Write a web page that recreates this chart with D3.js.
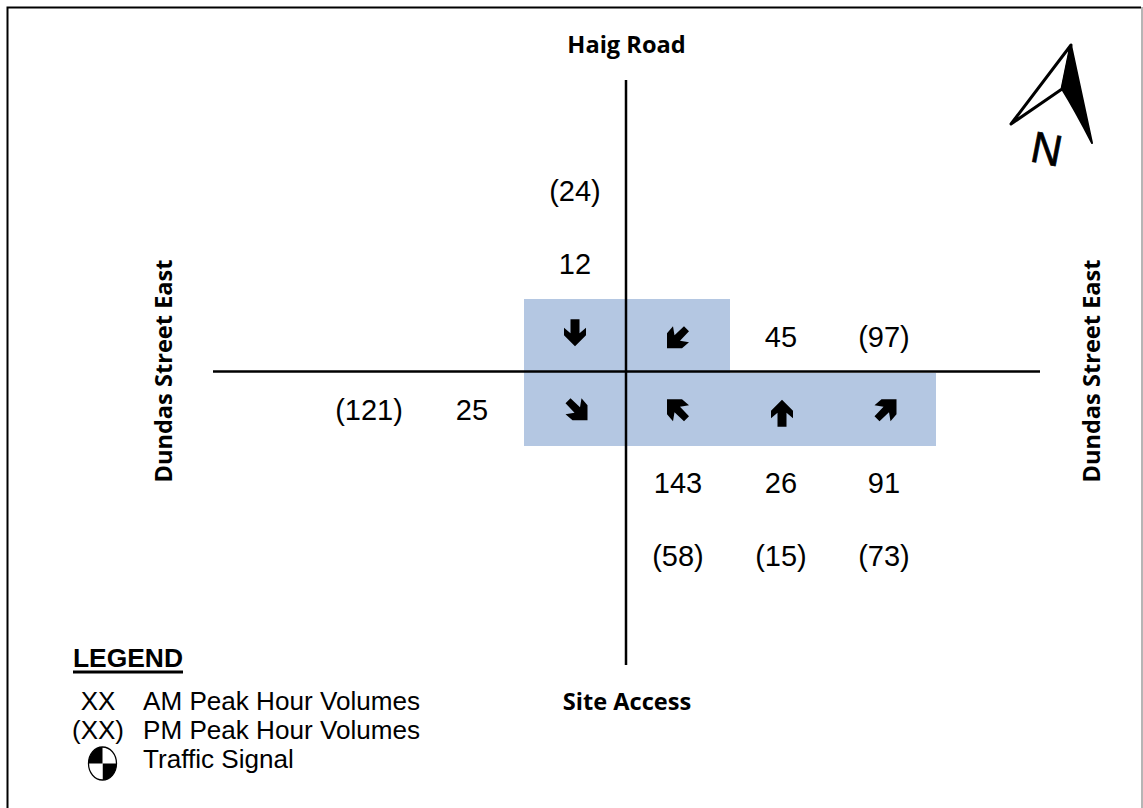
<!DOCTYPE html>
<html>
    <head>
        <meta charset="UTF-8" />
        <title>Haig Road at Dundas Street East</title>
        <script src="https://cdn.jsdelivr.net/npm/d3@7"></script>
        <style>
            html, body { margin: 0; padding: 0; background: #fff; }
            svg { display: block; }
        </style>
    </head>
    <body>
        <svg id="chart"></svg>

        <script>
            // Turning movements, one entry per arrow
            const directions = ["down", "downLeft", "downRight", "upLeft", "up", "upRight"];
            const amVolumes = [12, 45, 25, 143, 26, 91];
            const pmVolumes = [24, 97, 121, 58, 15, 73];

            // Grid slots for each movement
            const columns = ["c1", "c2", "c3", "c4", "c5", "c6"];
            const rows = ["r1", "r2", "r3", "r4", "r5", "r6"];
            const arrowCols = ["c3", "c4", "c3", "c4", "c5", "c6"];
            const arrowRows = ["north", "north", "south", "south", "south", "south"];
            const amCols = ["c3", "c5", "c2", "c4", "c5", "c6"];
            const amRows = ["r2", "r3", "r4", "r5", "r5", "r5"];
            const pmCols = ["c3", "c6", "c1", "c4", "c5", "c6"];
            const pmRows = ["r1", "r3", "r4", "r6", "r6", "r6"];

            // Legend
            const legendKeys = ["XX", "(XX)", ""];
            const legendLabels = ["AM Peak Hour Volumes", "PM Peak Hour Volumes", "Traffic Signal"];

            const width = 1143;
            const height = 808;
            const numFont = "'Liberation Sans', Arial, sans-serif";
            const labelFont = "'Open Sans', 'Noto Sans', sans-serif";

            const svg = d3.select("#chart")
                        .attr("width", width)
                        .attr("height", height);

            const x = d3.scalePoint().domain(columns).range([369, 884]);
            const y = d3.scalePoint().domain(rows).range([191, 555.5]);
            const bandY = d3.scaleBand().domain(["north", "south"]).range([299, 446]);
            const halfStep = x.step() / 2;

            // Page frame, the right edge is a light grey
            svg.append("path")
                .attr("d", "M7.5,808V7.5H1141")
                .attr("fill", "none")
                .attr("stroke", "#000")
                .attr("stroke-width", 2);
            svg.append("line")
                .attr("x1", 1142).attr("x2", 1142)
                .attr("y1", 7).attr("y2", 808)
                .attr("stroke", "#b5b5b5")
                .attr("stroke-width", 2);

            // Shaded cells
            svg.selectAll("rect.cell")
                .data(directions)
                .enter()
                .append("rect")
                .attr("class", "cell")
                .attr("x", (d, i) => x(arrowCols[i]) - halfStep)
                .attr("y", (d, i) => bandY(arrowRows[i]))
                .attr("width", x.step())
                .attr("height", bandY.bandwidth())
                .attr("fill", "#b4c7e2")
                .attr("shape-rendering", "crispEdges");

            // Roads
            svg.append("line")
                .attr("x1", 213).attr("x2", 1040)
                .attr("y1", 371.5).attr("y2", 371.5)
                .attr("stroke", "#000").attr("stroke-width", 2.5);
            svg.append("line")
                .attr("x1", 626).attr("x2", 626)
                .attr("y1", 80).attr("y2", 665)
                .attr("stroke", "#000").attr("stroke-width", 2.5);

            // Arrow glyphs, drawn pointing up and turned to suit
            const straightArrow = "M0,-13.5L11,-2.5V5L4.5,-0.5V13.5H-4.5V-0.5L-11,5V-2.5Z";
            const cornerArrow = "M11,-11V4L5,11L3.5,2L-6,11L-11,6L-2,-3.5L-11,-5L-4,-11Z";
            const glyphs = {
                down: { path: straightArrow, angle: 180, dx: 0, dy: -3 },
                up: { path: straightArrow, angle: 0, dx: 1, dy: 4 },
                upRight: { path: cornerArrow, angle: 0, dx: 1.5, dy: 1 },
                downRight: { path: cornerArrow, angle: 90, dx: 1.5, dy: 0 },
                downLeft: { path: cornerArrow, angle: 180, dx: 0, dy: 1.5 },
                upLeft: { path: cornerArrow, angle: 270, dx: 0, dy: 1 }
            };

            svg.selectAll("path.arrow")
                .data(directions)
                .enter()
                .append("path")
                .attr("class", "arrow")
                .attr("d", d => glyphs[d].path)
                .attr("transform", (d, i) => {
                    const cx = x(arrowCols[i]) + glyphs[d].dx;
                    const cy = bandY(arrowRows[i]) + bandY.bandwidth() / 2 + glyphs[d].dy;
                    return `translate(${cx},${cy}) rotate(${glyphs[d].angle})`;
                })
                .attr("fill", "#000");

            // Volumes
            svg.selectAll("text.am")
                .data(amVolumes)
                .enter()
                .append("text")
                .attr("class", "am")
                .attr("x", (d, i) => x(amCols[i]))
                .attr("y", (d, i) => y(amRows[i]))
                .attr("dy", "0.36em")
                .attr("text-anchor", "middle")
                .style("font", `29px ${numFont}`)
                .text(d => d);

            svg.selectAll("text.pm")
                .data(pmVolumes)
                .enter()
                .append("text")
                .attr("class", "pm")
                .attr("x", (d, i) => x(pmCols[i]))
                .attr("y", (d, i) => y(pmRows[i]))
                .attr("dy", "0.36em")
                .attr("text-anchor", "middle")
                .style("font", `29px ${numFont}`)
                .text(d => `(${d})`);

            // Road names
            function roadLabel(text, tx, ty, angle) {
                svg.append("text")
                    .attr("transform", `translate(${tx},${ty}) rotate(${angle})`)
                    .attr("text-anchor", "middle")
                    .style("font", `bold 23.6px ${labelFont}`)
                    .text(text);
            }
            roadLabel("Haig Road", 626.5, 53, 0);
            roadLabel("Site Access", 627, 710, 0);
            roadLabel("Dundas Street East", 172, 371, -90);
            roadLabel("Dundas Street East", 1100, 371, -90);

            // North arrow
            svg.append("path")
                .attr("d", "M1071,45L1011,124L1062,89Z")
                .attr("fill", "#fff")
                .attr("stroke", "#000")
                .attr("stroke-width", 3)
                .attr("stroke-linejoin", "round");
            svg.append("path")
                .attr("d", "M1071,45L1062,89Q1075,110 1092,143Z")
                .attr("fill", "#000")
                .attr("stroke", "#000")
                .attr("stroke-width", 2)
                .attr("stroke-linejoin", "round");
            svg.append("text")
                .attr("transform", "translate(1029,161) rotate(11) scale(0.95,1)")
                .attr("stroke", "#000")
                .attr("stroke-width", 0.8)
                .style("font", `44px ${numFont}`)
                .text("N");

            // Legend
            const legendY = d3.scalePoint().domain(legendLabels).range([710, 767.5]);

            svg.append("text")
                .attr("x", 73).attr("y", 667)
                .style("font", `bold 26.4px ${numFont}`)
                .text("LEGEND");
            svg.append("line")
                .attr("x1", 73).attr("x2", 183)
                .attr("y1", 672).attr("y2", 672)
                .attr("stroke", "#000").attr("stroke-width", 3);

            svg.selectAll("text.legendKey")
                .data(legendKeys)
                .enter()
                .append("text")
                .attr("class", "legendKey")
                .attr("x", 98)
                .attr("y", (d, i) => legendY(legendLabels[i]))
                .attr("text-anchor", "middle")
                .style("font", `26px ${numFont}`)
                .text(d => d);

            svg.selectAll("text.legendLabel")
                .data(legendLabels)
                .enter()
                .append("text")
                .attr("class", "legendLabel")
                .attr("x", 143)
                .attr("y", d => legendY(d))
                .style("font", `26.1px ${numFont}`)
                .text(d => d);

            // Traffic signal symbol, black in two opposite quarters
            const signal = svg.append("g")
                .attr("transform", "translate(102.5,763.5) scale(14,16.5)");
            signal.selectAll("path")
                .data(d3.pie().value(1).sort(null)([1, 2, 3, 4]))
                .enter()
                .append("path")
                .attr("d", d3.arc().innerRadius(0).outerRadius(1))
                .attr("fill", (d, i) => i % 2 === 0 ? "#fff" : "#000");
            signal.append("ellipse")
                .attr("rx", 1).attr("ry", 1)
                .attr("fill", "none")
                .attr("stroke", "#000")
                .attr("stroke-width", 0.09);
        </script>
    </body>
</html>
